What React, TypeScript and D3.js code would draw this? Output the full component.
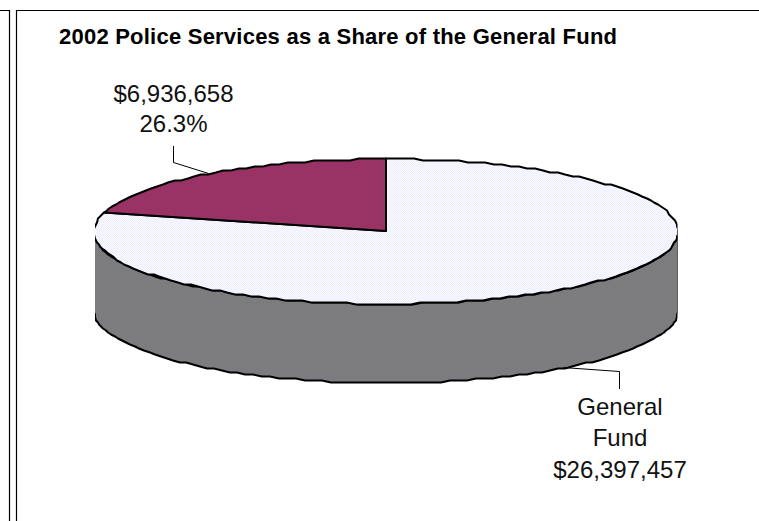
import React from "react";
import * as d3 from "d3";

const categories = ["General Fund", "Police Services"];
const values = [26397457, 6936658];
const titleText = "2002 Police Services as a Share of the General Fund";
const generalLabel = ["General", "Fund", "$26,397,457"];
const policeLabel = ["$6,936,658", "26.3%"];

const W = 759;
const H = 521;
const cx = 386;
const cy = 231;
const rx = 292;
const ry = 72.5;
const depth = 79;
const FONT = "'Liberation Sans', Arial, sans-serif";

const px = d3.scaleLinear().domain([-1, 1]).range([cx - rx, cx + rx]);
const py = d3.scaleLinear().domain([-1, 1]).range([cy - ry, cy + ry]);

// Pie angles (0 = 12 o'clock, clockwise) projected on the tilted ellipse
const project = (a: number, dy = 0): [number, number] => [px(Math.sin(a)), py(-Math.cos(a)) + dy];
// the outline of the reference is coarse: snap its vertices to a 2px grid
const snap = (p: [number, number]): [number, number] => [Math.round(p[0]), Math.round(p[1] / 2) * 2 + 0.5];
const STEP = Math.PI / 100;
const arcPts = (a0: number, a1: number, dy = 0): [number, number][] => {
  const n = Math.max(1, Math.round(Math.abs(a1 - a0) / STEP));
  return d3.range(n + 1).map((i) => snap(project(a0 + ((a1 - a0) * i) / n, dy)));
};
const line = d3.line<[number, number]>();

const slices = d3.pie<number>().sort(null)(values);
const general = slices[0];
const police = slices[1];
const mid = (s: d3.PieArcDatum<number>) => (s.startAngle + s.endAngle) / 2;

const slicePath = (s: d3.PieArcDatum<number>) =>
  line([[cx, cy], ...arcPts(s.startAngle, s.endAngle)])! + "Z";

const wallPath =
  line([...arcPts(Math.PI / 2, (3 * Math.PI) / 2), ...arcPts((3 * Math.PI) / 2, Math.PI / 2, depth)])! + "Z";

const generalAnchor = project(mid(general), depth);
const policeAnchor = project(mid(police));

export default function App() {
  return (
    <svg
      width={W}
      height={H}
      viewBox={`0 0 ${W} ${H}`}
      style={{ position: "absolute", left: 0, top: 0, background: "#fff" }}
    >
      <defs>
        <pattern id="lav" width={2} height={2} patternUnits="userSpaceOnUse">
          <rect width={2} height={2} fill="#f8f8ff" />
          <rect width={1} height={1} fill="#eeeeff" />
          <rect x={1} y={1} width={1} height={1} fill="#eeeeff" />
        </pattern>
        <pattern id="gry" width={2} height={2} patternUnits="userSpaceOnUse">
          <rect width={2} height={2} fill="#808080" />
          <rect width={1} height={1} fill="#78787f" />
          <rect x={1} y={1} width={1} height={1} fill="#78787f" />
        </pattern>
        <clipPath id="clip">
          <rect x={95} y={100} width={582.5} height={320} />
        </clipPath>
      </defs>

      {/* page frames */}
      <path d="M0 10.5H9.5V521M16.5 521V10.5H759" fill="none" stroke="#000" strokeWidth={1.2} />

      <text x={59} y={44} fontFamily={FONT} fontWeight="bold" fontSize={22} textLength={558} lengthAdjust="spacing" fill="#000">
        {titleText}
      </text>

      <g clipPath="url(#clip)" stroke="#000" strokeWidth={2} strokeLinejoin="round">
        <path d={wallPath} fill="url(#gry)" />
        <path d={slicePath(general)} fill="url(#lav)" data-name={categories[0]} />
        <path d={slicePath(police)} fill="#993366" data-name={categories[1]} />
      </g>

      {/* leader lines */}
      <path
        d={line([[173.5, 146], [173.5, 162.5], policeAnchor])!}
        fill="none"
        stroke="#000"
        strokeWidth={1}
      />
      <path
        d={line([generalAnchor, [619.5, 371.5], [619.5, 389]])!}
        fill="none"
        stroke="#000"
        strokeWidth={1}
      />

      <g fontFamily={FONT} fontSize={24} textAnchor="middle" fill="#111">
        <text x={173.5} y={101.5}>{policeLabel[0]}</text>
        <text x={173.5} y={132}>{policeLabel[1]}</text>
        <text x={620} y={414.5}>{generalLabel[0]}</text>
        <text x={620} y={446}>{generalLabel[1]}</text>
        <text x={620} y={478}>{generalLabel[2]}</text>
      </g>
    </svg>
  );
}
